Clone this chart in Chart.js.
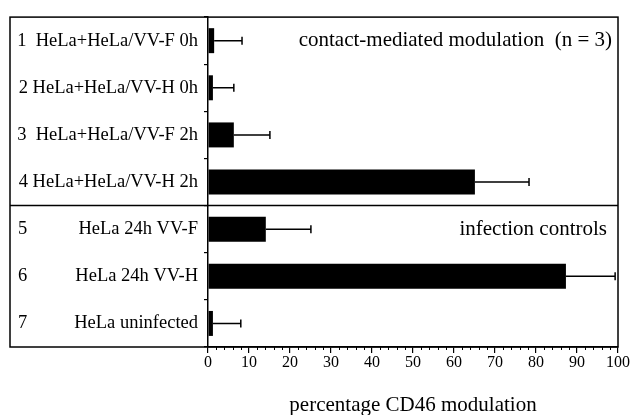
<!DOCTYPE html>
<html>
<head>
<meta charset="utf-8">
<script src="https://cdn.jsdelivr.net/npm/chart.js@4.4.0/dist/chart.umd.min.js"></script>
<style>
  html, body { margin: 0; background: #fff; }
  #wrap { width: 631px; height: 415px; }
</style>
</head>
<body>
<div id="wrap"><canvas id="chart"></canvas></div>
<script>
// Data
const rowLabels = [
  '1  HeLa+HeLa/VV-F 0h',
  '2 HeLa+HeLa/VV-H 0h',
  '3  HeLa+HeLa/VV-F 2h',
  '4 HeLa+HeLa/VV-H 2h',
  'HeLa 24h VV-F',
  'HeLa 24h VV-H',
  'HeLa uninfected'
];
const rowNumbers = ['', '', '', '', '5', '6', '7'];
const modulation = [1.5, 1.2, 6.3, 65.1, 14.1, 87.3, 1.2];
const errorPlus  = [6.8, 5.1, 8.8, 13.2, 11.0, 12.0, 6.8];
const panelNotes = ['contact-mediated modulation  (n = 3)', 'infection controls'];

const SERIF = '"Liberation Serif", "DejaVu Serif", serif';
const BOX_LEFT = 10;

// frame, separator, row numbers, minor ticks, error bars, panel notes
const framePlugin = {
  id: 'frame',
  afterDraw(chart) {
    const { ctx, chartArea: a, scales: { x, y } } = chart;
    ctx.save();
    ctx.strokeStyle = '#000';
    ctx.fillStyle = '#000';

    // outer box + panel separator
    ctx.lineWidth = 1.5;
    ctx.strokeRect(BOX_LEFT, a.top, a.right - BOX_LEFT, a.bottom - a.top);
    const sep = (y.getPixelForValue(3) + y.getPixelForValue(4)) / 2;
    ctx.beginPath();
    ctx.moveTo(BOX_LEFT, sep);
    ctx.lineTo(a.right, sep);
    ctx.stroke();

    // minor x ticks every 2
    ctx.lineWidth = 1;
    ctx.beginPath();
    for (let v = 2; v < 100; v += 2) {
      if (v % 10 === 0) continue;
      const px = Math.round(x.getPixelForValue(v)) + 0.5;
      ctx.moveTo(px, a.bottom);
      ctx.lineTo(px, a.bottom + 3);
    }
    ctx.stroke();

    // error bars (one-sided)
    ctx.lineWidth = 1.5;
    modulation.forEach((m, i) => {
      const yc = y.getPixelForValue(i);
      const x0 = x.getPixelForValue(m);
      const x1 = x.getPixelForValue(m + errorPlus[i]);
      ctx.beginPath();
      ctx.moveTo(x0, yc);
      ctx.lineTo(x1, yc);
      ctx.moveTo(x1, yc - 4);
      ctx.lineTo(x1, yc + 4);
      ctx.stroke();
    });

    // row numbers for the infection controls
    ctx.font = '18.5px ' + SERIF;
    ctx.textBaseline = 'middle';
    ctx.textAlign = 'left';
    rowNumbers.forEach((n, i) => {
      if (n) ctx.fillText(n, 18, y.getPixelForValue(i));
    });

    // panel notes
    ctx.font = '21px ' + SERIF;
    ctx.textAlign = 'right';
    ctx.fillText(panelNotes[0], a.right - 6, y.getPixelForValue(0));
    ctx.fillText(panelNotes[1], a.right - 11, y.getPixelForValue(4));
    ctx.restore();
  }
};

new Chart(document.getElementById('chart'), {
  type: 'bar',
  data: {
    labels: rowLabels,
    datasets: [{
      data: modulation,
      backgroundColor: '#000',
      borderWidth: 0,
      categoryPercentage: 1,
      barPercentage: 0.53
    }]
  },
  options: {
    indexAxis: 'y',
    responsive: true,
    maintainAspectRatio: false,
    animation: false,
    layout: { padding: { top: 12, right: 13, bottom: 0, left: 0 } },
    plugins: { legend: { display: false }, tooltip: { enabled: false } },
    scales: {
      x: {
        min: 0, max: 100,
        ticks: { stepSize: 10, color: '#000', font: { family: SERIF, size: 16 }, padding: 0 },
        grid: { drawOnChartArea: false, tickLength: 6, color: '#000', lineWidth: 1.2 },
        border: { color: '#000', width: 1.5 },
        title: {
          display: true,
          text: 'percentage CD46 modulation',
          color: '#000',
          font: { family: SERIF, size: 21 },
          padding: { top: 22, bottom: -3 }
        },
        afterFit(s) { s.height = 68; }
      },
      y: {
        ticks: { color: '#000', font: { family: SERIF, size: 18.5 }, padding: 6 },
        grid: { offset: true, drawOnChartArea: false, tickLength: 4, color: '#000', lineWidth: 1.2 },
        border: { color: '#000', width: 1.5 },
        afterFit(s) { s.width = 208; }
      }
    }
  },
  plugins: [framePlugin]
});
</script>
</body>
</html>
